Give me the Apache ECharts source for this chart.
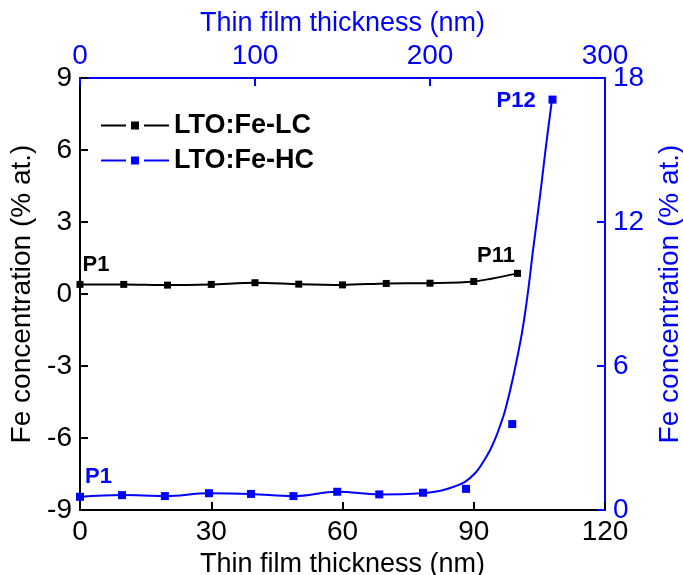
<!DOCTYPE html>
<html>
<head>
<meta charset="utf-8">
<script src="https://cdn.jsdelivr.net/npm/echarts@6/dist/echarts.min.js"></script>
<style>
  html, body { margin: 0; padding: 0; background: #fff; }
  #chart { width: 683px; height: 575px; }
</style>
</head>
<body>
<div id="chart"></div>
<script>
// LTO:Fe-LC, bottom / left axes
var lcThickness = [0, 10, 20, 30, 40, 50, 60, 70, 80, 90, 100];
var lcConc = [0.40, 0.40, 0.37, 0.40, 0.47, 0.41, 0.38, 0.44, 0.45, 0.52, 0.86];

// LTO:Fe-HC, top / right axes
var hcThickness = [0, 24, 48.5, 73.7, 97.7, 122, 147, 171, 196, 220.6, 247, 270];
var hcConc = [0.55, 0.62, 0.58, 0.70, 0.67, 0.58, 0.76, 0.65, 0.72, 0.88, 3.58, 17.1];

// fitted curve through the HC profile
var hcFitThickness = [0, 24, 48.5, 73.7, 97.7, 122, 147, 171, 196, 206, 214, 220, 226, 230, 234, 237, 240, 243, 247.4, 252.6, 256, 259, 262.9, 266, 269.7];
var hcFitConc = [0.55, 0.62, 0.58, 0.70, 0.67, 0.58, 0.76, 0.65, 0.70, 0.80, 0.98, 1.17, 1.55, 1.96, 2.45, 2.92, 3.50, 4.17, 5.50, 7.40, 9.10, 10.9, 13.1, 15.0, 17.1];

var BLUE = '#0000ff';
var FONT = 'Liberation Sans';
var LEGEND_ICON = 'path://M0,3h25v2h-25z M30,0h8v8h-8z M43,3h25v2h-25z';

function pairs(xs, ys) {
    return xs.map(function (x, i) { return [x, ys[i]]; });
}

function tagged(list, idx, text, color, pos) {
    list[idx] = {
        value: list[idx],
        label: {
            show: true, formatter: text, position: pos,
            color: color, fontFamily: FONT, fontWeight: 'bold', fontSize: 22
        }
    };
    return list;
}

var lcData = pairs(lcThickness, lcConc);
tagged(lcData, 0, 'P1', '#000', [6, -27]);
tagged(lcData, lcData.length - 1, 'P11', '#000', [-37, -25]);

var hcData = pairs(hcThickness, hcConc);
tagged(hcData, 0, 'P1', BLUE, [9, -27]);
tagged(hcData, hcData.length - 1, 'P12', BLUE, [-52, -6]);

function axisCommon(color) {
    return {
        axisLine: { show: true, onZero: false, lineStyle: { color: color, width: 2 } },
        axisTick: { show: true, inside: true, length: 8, lineStyle: { color: color, width: 2 } },
        axisLabel: { color: color, fontFamily: FONT, fontSize: 28, margin: 8 },
        splitLine: { show: false },
        nameTextStyle: { color: color, fontFamily: FONT, fontSize: 27 }
    };
}

var option = {
    animation: false,
    backgroundColor: '#fff',
    grid: { left: 80, right: 78, top: 78, bottom: 65, containLabel: false, outerBoundsMode: 'none' },
    legend: {
        orient: 'vertical',
        left: 96,
        top: 107,
        itemWidth: 68,
        itemHeight: 8,
        itemGap: 8,
        data: [
            { name: 'LTO:Fe-LC', icon: LEGEND_ICON },
            { name: 'LTO:Fe-HC', icon: LEGEND_ICON }
        ],
        textStyle: { fontFamily: FONT, fontWeight: 'bold', fontSize: 27, color: '#000' }
    }
};

option.xAxis = [
    Object.assign(axisCommon('#000'), {
        type: 'value', position: 'bottom', min: 0, max: 120, interval: 30,
        name: 'Thin film thickness (nm)', nameLocation: 'middle', nameGap: 31
    }),
    Object.assign(axisCommon(BLUE), {
        type: 'value', position: 'top', min: 0, max: 300, interval: 100,
        name: 'Thin film thickness (nm)', nameLocation: 'middle', nameGap: 40
    })
];
option.yAxis = [
    Object.assign(axisCommon('#000'), {
        type: 'value', position: 'left', min: -9, max: 9, interval: 3,
        name: 'Fe concentration (% at.)', nameLocation: 'middle', nameGap: 35
    }),
    Object.assign(axisCommon(BLUE), {
        type: 'value', position: 'right', min: 0, max: 18, interval: 6,
        name: 'Fe concentration (% at.)', nameLocation: 'middle', nameGap: 51
    })
];
option.yAxis[0].nameTextStyle.fontSize = 28;
option.yAxis[1].nameTextStyle.fontSize = 28;

option.series = [
    {
        name: 'LTO:Fe-LC',
        type: 'line',
        xAxisIndex: 0, yAxisIndex: 0,
        data: lcData,
        smooth: 0.3,
        symbol: 'rect',
        symbolSize: 7,
        color: '#000',
        lineStyle: { color: '#000', width: 2 },
        itemStyle: { color: '#000' },
        z: 3
    },
    {
        name: 'LTO:Fe-HC',
        type: 'line',
        xAxisIndex: 1, yAxisIndex: 1,
        data: pairs(hcFitThickness, hcFitConc),
        smooth: 0.4,
        symbol: 'rect',
        symbolSize: 7,
        showSymbol: false,
        color: BLUE,
        lineStyle: { color: BLUE, width: 2 },
        itemStyle: { color: BLUE },
        z: 2
    },
    {
        name: 'HC points',
        type: 'scatter',
        xAxisIndex: 1, yAxisIndex: 1,
        data: hcData,
        symbol: 'rect',
        symbolSize: 8,
        itemStyle: { color: BLUE, opacity: 1 },
        z: 4
    }
];

var myChart = echarts.init(document.getElementById('chart'), null, { renderer: 'canvas' });
myChart.setOption(option);
</script>
</body>
</html>
